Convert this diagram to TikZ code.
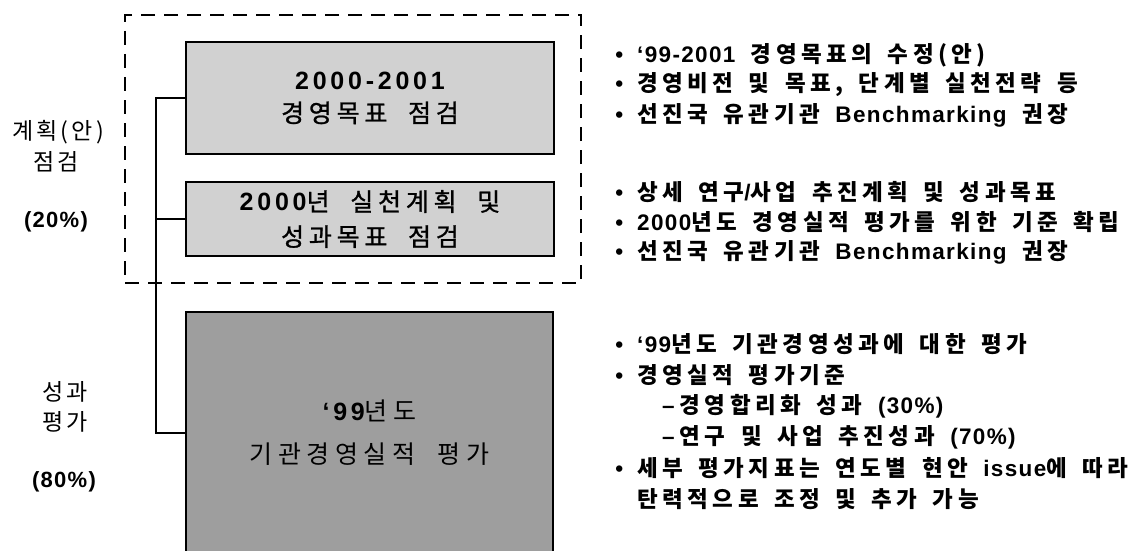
\documentclass[tikz,border=0pt]{standalone}
\usepackage{fontspec}
\setmainfont{Liberation Sans}
\newfontfamily\krR[LetterSpace=20,WordSpace=1.6]{Noto Sans CJK KR}
\newfontfamily\laR[LetterSpace=6]{Liberation Sans}
\newfontfamily\krBox[LetterSpace=19,WordSpace=2,FakeBold=1]{Noto Sans CJK KR}
\newfontfamily\krBoxD[LetterSpace=22,WordSpace=2]{Noto Sans CJK KR}
\newfontfamily\laBox[LetterSpace=15]{Liberation Sans}
\newfontfamily\krL[LetterSpace=14]{Noto Sans CJK KR}
\newcommand\en[1]{{\fontsize{22.5}{22.5}\selectfont\laR #1}}
\newcommand\enb[1]{{\laBox #1}}
\newcommand\bul{\llap{\en{•}\hspace{14pt}}}
\tikzset{
  frame/.style={draw, line width=2.8pt, dash pattern=on 14pt off 9pt, inner sep=0},
  boxnode/.style={draw, line width=1.4pt, inner sep=0, align=center},
  lightbox/.style={boxnode, fill=black!18, minimum width=368pt},
  darkbox/.style={boxnode, fill=black!38, minimum width=367pt},
  conn/.style={line width=1.4pt},
  rtext/.style={anchor=west, inner sep=0, font=\fontsize{22.5}{22.5}\selectfont\krR\bfseries},
  ltext/.style={anchor=center, inner sep=0, font=\fontsize{23}{23}\selectfont\krL},
  lpct/.style={anchor=center, inner sep=0, font=\fontsize{22}{22}\selectfont\laR\bfseries}
}
\begin{document}
\begin{tikzpicture}[x=1pt, y=-1pt]
\useasboundingbox (0,0) rectangle (1144,551);
\fill[white] (0,0) rectangle (1144,551);

% dashed frame
\node[frame, minimum width=456pt, minimum height=268pt] (frame) at (353,149) {};

% boxes
\node[lightbox, minimum height=112pt, font=\fontsize{25}{33}\selectfont\krBox] (b1) at (370,98)
  {\enb{\bfseries 2000-2001}\\경영목표 점검};
\node[lightbox, minimum height=74pt, font=\fontsize{25}{35}\selectfont\krBox] (b2) at (370,219)
  {\enb{\bfseries 2000}년 실천계획 및\\성과목표 점검};
\node[darkbox, minimum height=242pt, font=\fontsize{25}{43}\selectfont\krBoxD] (b3) at (369.5,433)
  {\enb{\bfseries ‘99}년도\\기관경영실적 평가};

% connectors
\coordinate (tr) at (156,0);
\draw[conn] (b1.west) -- (b1.west -| tr) |- (b3.west);
\draw[conn] (b2.west) -- (b2.west -| tr);

% left labels
\node[ltext] (la1) at (58,132) {계획(안)};
\node[ltext] (la2) at (56,162) {점검};
\node[lpct]  (la3) at (56,222) {(20\%)};
\node[ltext] (lb1) at (65,392) {성과};
\node[ltext] (lb2) at (65,422) {평가};
\node[lpct]  (lb3) at (64,482) {(80\%)};

% right bullet text
\node[rtext] (r1) at (637,55)  {\bul\en{‘99-2001} 경영목표의 수정(안)};
\node[rtext] (r2) at (637,85)  {\bul 경영비전 및 목표, 단계별 실천전략 등};
\node[rtext] (r3) at (637,115) {\bul 선진국 유관기관 \en{Benchmarking} 권장};
\node[rtext] (r4) at (637,192) {\bul 상세 연구\en{/}사업 추진계획 및 성과목표};
\node[rtext] (r5) at (637,222) {\bul\en{2000}년도 경영실적 평가를 위한 기준 확립};
\node[rtext] (r6) at (637,252) {\bul 선진국 유관기관 \en{Benchmarking} 권장};
\node[rtext] (r7) at (637,344) {\bul\en{‘99}년도 기관경영성과에 대한 평가};
\node[rtext] (r8) at (637,375) {\bul 경영실적 평가기준};
\node[rtext] (r9) at (662,406) {\en{–}\hspace{5pt}경영합리화 성과 \en{(30\%)}};
\node[rtext] (r10) at (662,437) {\en{–}\hspace{5pt}연구 및 사업 추진성과 \en{(70\%)}};
\node[rtext] (r11) at (637,468) {\bul 세부 평가지표는 연도별 현안 \en{issue}에 따라};
\node[rtext] (r12) at (637,499) {탄력적으로 조정 및 추가 가능};
\end{tikzpicture}
\end{document}
